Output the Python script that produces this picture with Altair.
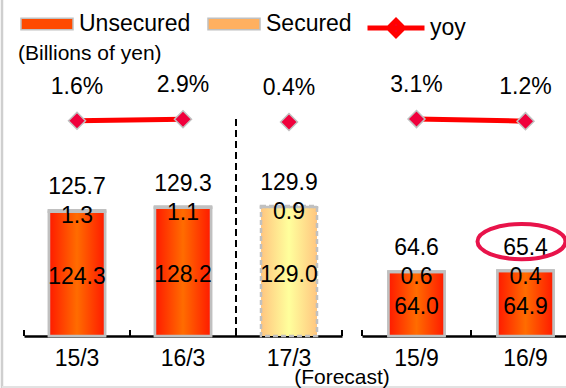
import altair as alt
import pandas as pd

# ---------------- data ----------------
categories = ["15/3", "16/3", "17/3", "15/9", "16/9"]
unsecured = [124.3, 128.2, 129.0, 64.0, 64.9]
secured = [1.3, 1.1, 0.9, 0.6, 0.4]
totals = [125.7, 129.3, 129.9, 64.6, 65.4]
yoy = [1.6, 2.9, 0.4, 3.1, 1.2]
forecast = [False, False, True, False, False]
period = ["FY", "FY", "FY", "H1", "H1"]
highlight = [False, False, False, False, True]
last_in_group = [False, False, True, False, True]

df = pd.DataFrame({
    "cat": categories,
    "unsec": unsecured,
    "sec": secured,
    "total": totals,
    "yoy": yoy,
    "forecast": forecast,
    "period": period,
    "highlight": highlight,
    "last": last_in_group,
})
df["yoy_label"] = [f"{v:.1f}%" for v in yoy]

# ---------------- style ----------------
FONT = "Liberation Sans"
H = 276
GRAY = "#c0c0c0"


def grad(edge, center):
    return alt.LinearGradient(
        gradient="linear", x1=0, x2=1, y1=0, y2=0,
        stops=[alt.GradientStop(color=edge, offset=0),
               alt.GradientStop(color=center, offset=0.5),
               alt.GradientStop(color=edge, offset=1)])


G_UNSEC = grad("#ff1a00", "#ff6c00")
G_SEC = grad("#ff9a3c", "#ffcc99")
G_FC = grad("#ffc680", "#ffff9c")

bar_scale = alt.Scale(domain=[0, H], nice=False, zero=True)
yoy_scale = alt.Scale(domain=[-194.1, 56.8], nice=False, zero=False)
color_scale = alt.Scale(domain=["Unsecured", "Secured"], range=["#ff4a00", "#ffb060"])
stroke_scale = alt.Scale(domain=["yoy"], range=["#ff0000"])

color_legend = alt.Legend(
    title=None, orient="none", legendX=-4, legendY=-63, direction="horizontal",
    symbolType="M-1,-0.22H1V0.22H-1Z", symbolSize=2704,
    labelFontSize=23, labelFont=FONT, labelColor="black", labelOffset=5,
    columnPadding=14, padding=0, symbolOpacity=1)
stroke_legend = alt.Legend(
    title=None, orient="none", legendX=341, legendY=-63, direction="horizontal",
    symbolType="M-1,0H1M0,-0.26L0.26,0L0,0.26L-0.26,0Z", symbolSize=3249,
    symbolFillColor="#f0003c", symbolStrokeWidth=5,
    labelFontSize=23, labelFont=FONT, labelColor="black", labelOffset=3, padding=0)


def panel(per, order, width, left):
    base = alt.Chart(df).transform_filter(alt.datum.period == per)
    xs = alt.Scale(paddingInner=0, paddingOuter=0)
    x_axis = alt.X("cat:N", sort=order, scale=xs, title=None,
                   axis=alt.Axis(labelAngle=0, ticks=False, domainColor="black",
                                 domainWidth=2.5, labelFontSize=23, labelColor="black",
                                 labelPadding=11, labelFont=FONT, grid=False))
    x = alt.X("cat:N", sort=order, scale=xs)
    x0 = alt.X("cat:N", sort=order, scale=xs, bandPosition=0)
    x1 = alt.X("cat:N", sort=order, scale=xs, bandPosition=1)
    yb = lambda f: alt.Y(f, scale=bar_scale, axis=None)
    yy = alt.Y("yoy:Q", scale=yoy_scale, axis=None)

    actual = base.transform_filter("!datum.forecast")
    fc = base.transform_filter("datum.forecast")
    first = base.transform_filter(alt.datum.cat == order[0])

    layers = []
    layers.append(actual.transform_calculate(series="'Unsecured'").mark_bar(
        size=56, stroke=GRAY, strokeWidth=2.5).encode(
        x=x_axis, y=yb("unsec:Q"),
        color=alt.Color("series:N", scale=color_scale, legend=color_legend)))
    layers.append(actual.transform_calculate(series="'Secured'").mark_bar(
        size=56, stroke=GRAY, strokeWidth=2.5).encode(
        x=x, y=yb("unsec:Q"), y2="total:Q",
        color=alt.Color("series:N", scale=color_scale, legend=color_legend)))
    layers.append(actual.mark_bar(size=56, stroke=GRAY, strokeWidth=2.5, fill=G_UNSEC).encode(
        x=x, y=yb("unsec:Q")))
    layers.append(actual.mark_bar(size=56, stroke=GRAY, strokeWidth=2.5, fill=G_SEC).encode(
        x=x, y=yb("unsec:Q"), y2="total:Q"))
    layers.append(fc.mark_bar(size=56, stroke=GRAY, strokeWidth=2.5, strokeDash=[5, 3], fill=G_FC).encode(
        x=x, y=yb("unsec:Q")))
    layers.append(fc.mark_bar(size=56, stroke=GRAY, strokeWidth=2.5, strokeDash=[5, 3], fill=G_FC).encode(
        x=x, y=yb("unsec:Q"), y2="total:Q"))
    layers.append(base.mark_rule(color="black", strokeWidth=2).encode(
        x=x0, y=alt.value(H - 6), y2=alt.value(H)))
    layers.append(base.transform_filter("datum.last").mark_rule(color="black", strokeWidth=2).encode(
        x=x1, y=alt.value(H - 6), y2=alt.value(H)))
    if left:
        # light frame at the picture's left and bottom edges
        layers.append(first.mark_rule(color="#cfcfcf", strokeWidth=2.5).encode(
            x=alt.value(-22), y=alt.value(-60), y2=alt.value(H + 52)))
        layers.append(first.mark_rule(color="#e2e2e2", strokeWidth=2).encode(
            x=alt.value(-22), x2=alt.value(545), y=alt.value(H + 51)))
        layers.append(fc.mark_rule(color="black", strokeWidth=2, strokeDash=[7, 4]).encode(
            x=x0, y=alt.value(59), y2=alt.value(H)))
        layers.append(fc.mark_text(text="(Forecast)", fontSize=21, font=FONT, color="black").encode(
            x=x1, y=alt.value(318)))
        layers.append(first.mark_text(
            text="(Billions of yen)", fontSize=21, font=FONT, color="black", align="left",
            baseline="alphabetic", dx=-6).encode(x=x0, y=alt.value(0)))
    txt = dict(fontSize=23, font=FONT, color="black")
    layers.append(base.mark_text(dy=-23, **txt).encode(
        x=x, y=yb("total:Q"), text=alt.Text("total:Q", format=".1f")))
    layers.append(base.mark_text(dy=6, **txt).encode(
        x=x, y=yb("total:Q"), text=alt.Text("sec:Q", format=".1f")))
    layers.append(base.transform_calculate(mid="datum.unsec / 2").mark_text(dy=3, **txt).encode(
        x=x, y=yb("mid:Q"), text=alt.Text("unsec:Q", format=".1f")))
    layers.append(actual.transform_calculate(series="'yoy'").mark_line(strokeWidth=5).encode(
        x=x, y=yy,
        stroke=alt.Stroke("series:N", scale=stroke_scale, legend=stroke_legend)))
    layers.append(base.mark_point(shape="diamond", filled=True, fill="#f0003c", stroke=GRAY,
                                  strokeWidth=1.5, size=289, opacity=1).encode(x=x, y=yy))
    layers.append(base.mark_text(dy=-34, **txt).encode(x=x, y=yy, text="yoy_label:N"))
    if not left:
        layers.append(base.transform_filter("datum.highlight").mark_point(
            shape="M-1,0A1,0.4 0 1,0 1,0A1,0.4 0 1,0 -1,0Z", size=7744, filled=False,
            stroke="#e8134a", strokeWidth=4, opacity=1, xOffset=-4, yOffset=-29).encode(
            x=x, y=yb("total:Q")))

    return alt.layer(*layers).resolve_scale(y="independent").properties(width=width, height=H)


left = panel("FY", ["15/3", "16/3", "17/3"], 318, True)
right = panel("H1", ["15/9", "16/9"], 218, False)

chart = alt.hconcat(left, right, spacing=20).resolve_scale(
    x="independent", color="shared", stroke="shared"
).properties(
    bounds="flush",
    autosize=alt.AutoSizeParams(type="none"),
    padding={"left": 24, "top": 60, "right": 542, "bottom": 328}
).configure(font=FONT).configure_view(stroke=None)

chart.save("out.html", embed_options={"renderer": "svg", "actions": False})
